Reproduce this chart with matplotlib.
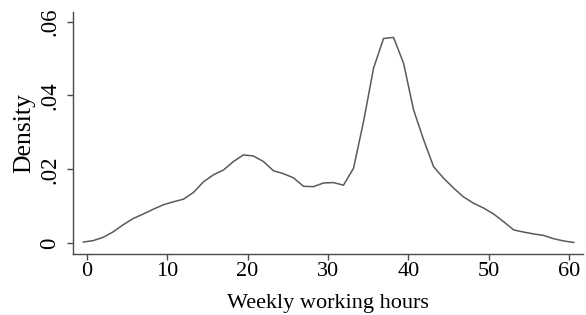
import matplotlib
matplotlib.use("Agg")
import matplotlib.pyplot as plt

hours = [-0.42, 0.82, 2.07, 3.31, 4.55, 5.80, 7.04, 8.29, 9.53, 10.78,
         12.02, 13.26, 14.51, 15.75, 17.00, 18.24, 19.48, 20.73, 21.97, 23.22,
         24.46, 25.70, 26.95, 28.19, 29.44, 30.68, 31.92, 33.17, 34.41, 35.66,
         36.90, 38.14, 39.39, 40.63, 41.88, 43.12, 44.36, 45.61, 46.85, 48.10,
         49.34, 50.58, 51.83, 53.07, 54.32, 55.56, 56.80, 58.05, 59.29, 60.54]
density = [0.0003, 0.0007, 0.0016, 0.0031, 0.0050, 0.0067, 0.0079, 0.0092, 0.0104, 0.0112,
           0.0119, 0.0137, 0.0166, 0.0185, 0.0198, 0.0221, 0.0239, 0.0236, 0.0221, 0.0196,
           0.0188, 0.0177, 0.0154, 0.0153, 0.0163, 0.0164, 0.0157, 0.0203, 0.0329, 0.0474,
           0.0554, 0.0557, 0.0487, 0.0361, 0.0280, 0.0207, 0.0176, 0.0149, 0.0125, 0.0108,
           0.0095, 0.0079, 0.0058, 0.0036, 0.0030, 0.0025, 0.0021, 0.0012, 0.0006, 0.0002]

xticks = [0, 10, 20, 30, 40, 50, 60]
yticks = [0, 0.02, 0.04, 0.06]
ylabels = ["0", ".02", ".04", ".06"]

plt.rcParams['font.family'] = ['Liberation Serif', 'DejaVu Serif']

fig = plt.figure(figsize=(5.86, 3.15), dpi=100)
ax = fig.add_axes([0.125, 0.194, 0.87, 0.767])
ax.plot(hours, density, color='#5a5a5a', lw=1.1)
ax.set_xlim(-1.67, 61.7)
ax.set_ylim(-0.0029, 0.0625)
ax.set_xticks(xticks)
ax.set_xticklabels([str(t) for t in xticks], fontsize=16)
ax.set_yticks(yticks)
ax.set_yticklabels(ylabels, fontsize=16.5, rotation=90, va='center')
for s in ['top', 'right']:
    ax.spines[s].set_visible(False)
for s in ['left', 'bottom']:
    ax.spines[s].set_color('#4a4a4a')
    ax.spines[s].set_linewidth(1.0)
ax.tick_params(direction='out', length=4.5, width=1.0, color='#4a4a4a')
ax.tick_params(axis='x', pad=1)
ax.tick_params(axis='y', pad=5)
ax.set_xlabel("Weekly working hours", fontsize=16, labelpad=10)
ax.set_ylabel("Density", fontsize=18.5, labelpad=3)
fig.savefig("out.png", dpi=100)
